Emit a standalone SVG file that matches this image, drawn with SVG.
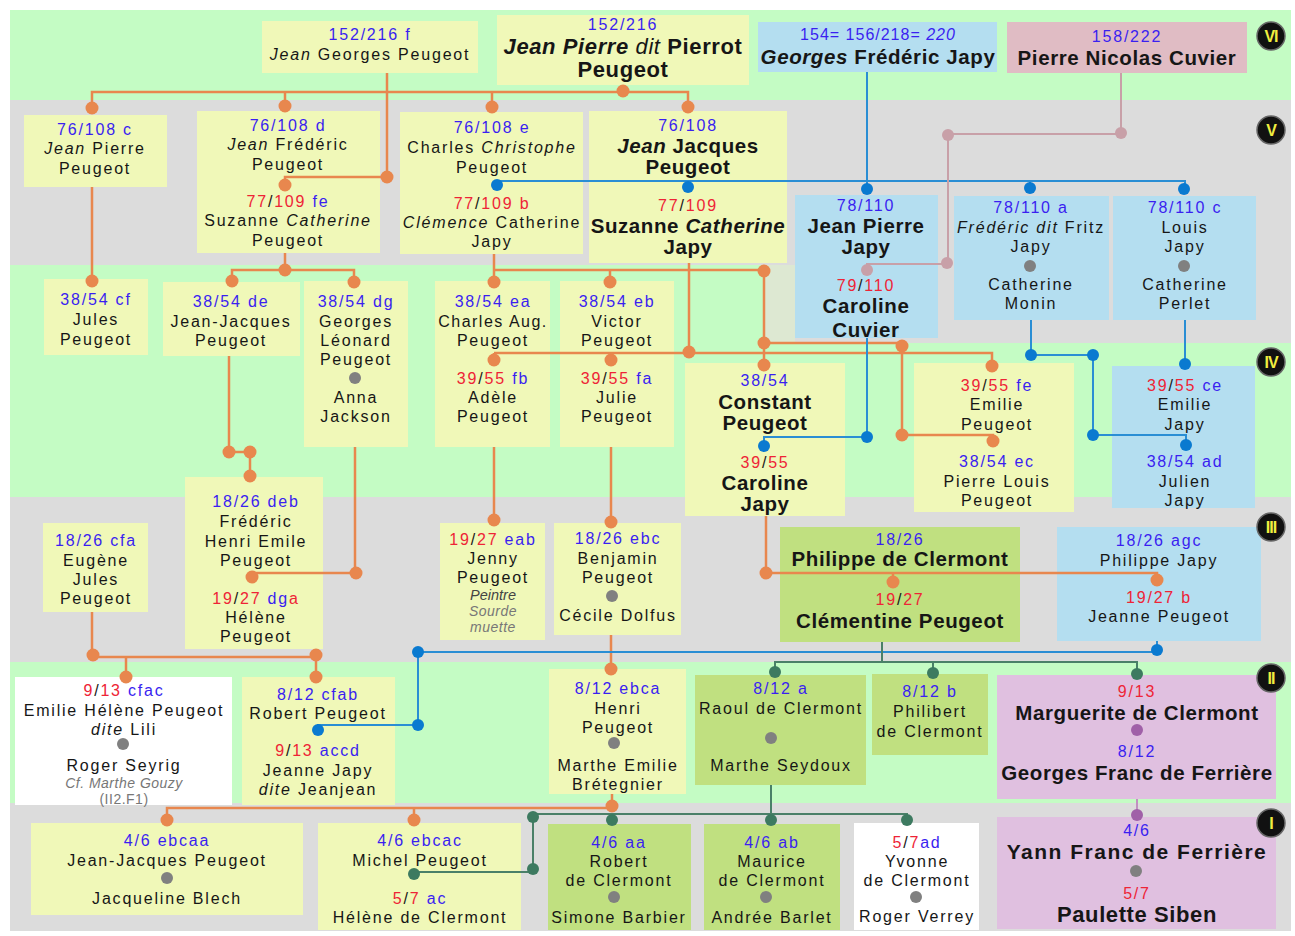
<svg xmlns="http://www.w3.org/2000/svg" width="1295" height="936" viewBox="0 0 1295 936">
<style>
.t{font-family:"Liberation Sans",Arial,sans-serif;font-size:16px;letter-spacing:1.8px;text-anchor:middle;fill:#161616}
.b{font-family:"Liberation Sans",Arial,sans-serif;font-size:20.5px;font-weight:bold;letter-spacing:0.6px;text-anchor:middle;fill:#161616}
.i{font-style:italic}
.nb{fill:#3a1ff0}
.nr{fill:#ee2436}
.sm{font-size:14px;font-style:italic;fill:#777;letter-spacing:0.5px}
.y{fill:#f0f8b8}.bu{fill:#b4def0}.pkb{fill:#e0bcc4}.vi{fill:#e0c0e0}.gr{fill:#c0e080}.w{fill:#fff}
.lo{fill:none;stroke:#e8874e;stroke-width:2.5}
.lb{fill:none;stroke:#2a8ed4;stroke-width:2}
.lp{fill:none;stroke:#c8a0a8;stroke-width:2}
.lt{fill:none;stroke:#4a8068;stroke-width:2}
.lv{fill:none;stroke:#c090c0;stroke-width:2}
.do{fill:#e8874e}.db{fill:#0a7ad0}.dp{fill:#c8a0a8}.dt{fill:#3d7a60}.dg{fill:#808080}.dv{fill:#a060a8}
.bd{fill:#111;stroke:#666;stroke-width:1.5}
.bt{font-family:"Liberation Sans",Arial,sans-serif;font-size:16px;font-weight:bold;text-anchor:middle;fill:#f0ee40;letter-spacing:-1px}
</style>
<g id="bands">
<rect x="10" y="10" width="1281" height="90" fill="#c4fcc4"/>
<rect x="10" y="100" width="1281" height="165" fill="#dcdcdc"/>
<rect x="10" y="265" width="1281" height="232" fill="#c4fcc4"/>
<rect x="795" y="265" width="496" height="78" fill="#dcdcdc"/>
<rect x="765" y="265" width="30" height="78" fill="#dde8d2"/>
<rect x="10" y="497" width="1281" height="165" fill="#dcdcdc"/>
<rect x="10" y="662" width="1281" height="141" fill="#c4fcc4"/>
<rect x="10" y="803" width="1281" height="128" fill="#dcdcdc"/>
</g>

<g id="n-jean-georges">
<rect class="y" x="262" y="21" width="216" height="52"/>
<text class="t nb" x="370" y="40">152/216 f</text>
<text class="t" x="370" y="60"><tspan class="i">Jean</tspan> Georges Peugeot</text>
</g>
<g id="n-pierrot">
<rect class="y" x="497" y="15" width="252" height="70"/>
<text class="t nb" x="623" y="30">152/216</text>
<text class="b" x="623" y="54" style="font-size:22px"><tspan class="i">Jean Pierre</tspan> <tspan class="i" font-weight="normal">dit</tspan> Pierrot</text>
<text class="b" x="623" y="77" style="font-size:22px">Peugeot</text>
</g>
<g id="n-georges-japy">
<rect class="bu" x="758" y="22" width="239" height="50"/>
<text class="t nb" x="878" y="40" style="letter-spacing:1px">154= 156/218= <tspan class="i">220</tspan></text>
<text class="b" x="878" y="64"><tspan class="i">Georges</tspan> Frédéric Japy</text>
</g>
<g id="n-cuvier">
<rect class="pkb" x="1007" y="22" width="240" height="51"/>
<text class="t nb" x="1127" y="42">158/222</text>
<text class="b" x="1127" y="65">Pierre Nicolas Cuvier</text>
</g>

<g id="n-76-108-c">
<rect class="y" x="24" y="115" width="143" height="72"/>
<text class="t nb" x="95" y="135">76/108 c</text>
<text class="t" x="95" y="154"><tspan class="i">Jean</tspan> Pierre</text>
<text class="t" x="95" y="174">Peugeot</text>
</g>
<g id="n-76-108-d">
<rect class="y" x="197" y="111" width="183" height="142"/>
<text class="t nb" x="288" y="131">76/108 d</text>
<text class="t" x="288" y="150"><tspan class="i">Jean</tspan> Frédéric</text>
<text class="t" x="288" y="170">Peugeot</text>
<text class="t" x="288" y="207"><tspan class="nr">77</tspan>/<tspan class="nr">109</tspan> <tspan class="nb">fe</tspan></text>
<text class="t" x="288" y="226">Suzanne <tspan class="i">Catherine</tspan></text>
<text class="t" x="288" y="246">Peugeot</text>
</g>
<g id="n-76-108-e">
<rect class="y" x="400" y="112" width="183" height="142"/>
<text class="t nb" x="492" y="133">76/108 e</text>
<text class="t" x="492" y="153">Charles <tspan class="i">Christophe</tspan></text>
<text class="t" x="492" y="173">Peugeot</text>
<text class="t" x="492" y="209"><tspan class="nr">77</tspan>/<tspan class="nr">109 b</tspan></text>
<text class="t" x="492" y="228"><tspan class="i">Clémence</tspan> Catherine</text>
<text class="t" x="492" y="247">Japy</text>
</g>
<g id="n-jean-jacques">
<rect class="y" x="589" y="111" width="198" height="152"/>
<text class="t nb" x="688" y="131">76/108</text>
<text class="b" x="688" y="153"><tspan class="i">Jean</tspan> Jacques</text>
<text class="b" x="688" y="174">Peugeot</text>
<text class="t" x="688" y="211"><tspan class="nr">77</tspan>/<tspan class="nr">109</tspan></text>
<text class="b" x="688" y="233">Suzanne <tspan class="i">Catherine</tspan></text>
<text class="b" x="688" y="254">Japy</text>
</g>
<g id="n-jean-pierre-japy">
<rect class="bu" x="795" y="195" width="143" height="143"/>
<text class="t nb" x="866" y="211">78/110</text>
<text class="b" x="866" y="233">Jean Pierre</text>
<text class="b" x="866" y="254">Japy</text>
<text class="t" x="866" y="291"><tspan class="nr">79</tspan>/<tspan class="nr">110</tspan></text>
<text class="b" x="866" y="313">Caroline</text>
<text class="b" x="866" y="336.5">Cuvier</text>
</g>
<g id="n-fritz">
<rect class="bu" x="954" y="196" width="155" height="124"/>
<text class="t nb" x="1031" y="213">78/110 a</text>
<text class="t" x="1031" y="233"><tspan class="i">Frédéric dit</tspan> Fritz</text>
<text class="t" x="1031" y="252">Japy</text>
<text class="t" x="1031" y="290">Catherine</text>
<text class="t" x="1031" y="309">Monin</text>
</g>
<g id="n-louis">
<rect class="bu" x="1113" y="196" width="143" height="124"/>
<text class="t nb" x="1185" y="213">78/110 c</text>
<text class="t" x="1185" y="233">Louis</text>
<text class="t" x="1185" y="252">Japy</text>
<text class="t" x="1185" y="290">Catherine</text>
<text class="t" x="1185" y="309">Perlet</text>
</g>

<g id="n-jules">
<rect class="y" x="44" y="279" width="104" height="76"/>
<text class="t nb" x="96" y="305">38/54 cf</text>
<text class="t" x="96" y="325">Jules</text>
<text class="t" x="96" y="345">Peugeot</text>
</g>
<g id="n-jean-jacques-de">
<rect class="y" x="163" y="282" width="137" height="74"/>
<text class="t nb" x="231" y="307">38/54 de</text>
<text class="t" x="231" y="327">Jean-Jacques</text>
<text class="t" x="231" y="346">Peugeot</text>
</g>
<g id="n-georges-leonard">
<rect class="y" x="304" y="281" width="104" height="166"/>
<text class="t nb" x="356" y="307">38/54 dg</text>
<text class="t" x="356" y="327">Georges</text>
<text class="t" x="356" y="346">Léonard</text>
<text class="t" x="356" y="365">Peugeot</text>
<text class="t" x="356" y="403">Anna</text>
<text class="t" x="356" y="422">Jackson</text>
</g>
<g id="n-charles-aug">
<rect class="y" x="435" y="281" width="115" height="166"/>
<text class="t nb" x="493" y="307">38/54 ea</text>
<text class="t" x="493" y="327" style="letter-spacing:1.5px">Charles Aug.</text>
<text class="t" x="493" y="346">Peugeot</text>
<text class="t" x="493" y="384"><tspan class="nr">39</tspan>/<tspan class="nr">55</tspan> <tspan class="nb">fb</tspan></text>
<text class="t" x="493" y="403">Adèle</text>
<text class="t" x="493" y="422">Peugeot</text>
</g>
<g id="n-victor">
<rect class="y" x="560" y="281" width="114" height="166"/>
<text class="t nb" x="617" y="307">38/54 eb</text>
<text class="t" x="617" y="327">Victor</text>
<text class="t" x="617" y="346">Peugeot</text>
<text class="t" x="617" y="384"><tspan class="nr">39</tspan>/<tspan class="nr">55</tspan> <tspan class="nb">fa</tspan></text>
<text class="t" x="617" y="403">Julie</text>
<text class="t" x="617" y="422">Peugeot</text>
</g>
<g id="n-constant">
<rect class="y" x="685" y="363" width="160" height="153"/>
<text class="t nb" x="765" y="386">38/54</text>
<text class="b" x="765" y="409">Constant</text>
<text class="b" x="765" y="430">Peugeot</text>
<text class="t" x="765" y="468"><tspan class="nr">39</tspan>/<tspan class="nr">55</tspan></text>
<text class="b" x="765" y="490">Caroline</text>
<text class="b" x="765" y="511">Japy</text>
</g>
<g id="n-emilie-peugeot">
<rect class="y" x="914" y="363" width="160" height="149"/>
<text class="t" x="997" y="391"><tspan class="nr">39</tspan>/<tspan class="nr">55</tspan> <tspan class="nb">fe</tspan></text>
<text class="t" x="997" y="410">Emilie</text>
<text class="t" x="997" y="430">Peugeot</text>
<text class="t nb" x="997" y="467">38/54 ec</text>
<text class="t" x="997" y="487">Pierre Louis</text>
<text class="t" x="997" y="506">Peugeot</text>
</g>
<g id="n-emilie-japy">
<rect class="bu" x="1112" y="366" width="143" height="142"/>
<text class="t" x="1185" y="391"><tspan class="nr">39</tspan>/<tspan class="nr">55</tspan> <tspan class="nb">ce</tspan></text>
<text class="t" x="1185" y="410">Emilie</text>
<text class="t" x="1185" y="430">Japy</text>
<text class="t nb" x="1185" y="467">38/54 ad</text>
<text class="t" x="1185" y="487">Julien</text>
<text class="t" x="1185" y="506">Japy</text>
</g>

<g id="n-eugene-jules">
<rect class="y" x="43" y="523" width="105" height="89"/>
<text class="t nb" x="96" y="546">18/26 cfa</text>
<text class="t" x="96" y="566">Eugène</text>
<text class="t" x="96" y="585">Jules</text>
<text class="t" x="96" y="604">Peugeot</text>
</g>
<g id="n-frederic-henri-emile">
<rect class="y" x="185" y="477" width="138" height="172"/>
<text class="t nb" x="256" y="507">18/26 deb</text>
<text class="t" x="256" y="527">Frédéric</text>
<text class="t" x="256" y="547">Henri Emile</text>
<text class="t" x="256" y="566">Peugeot</text>
<text class="t" x="256" y="604"><tspan class="nr">19</tspan>/<tspan class="nr">27</tspan> <tspan class="nb">dg</tspan><tspan class="nr">a</tspan></text>
<text class="t" x="256" y="623">Hélène</text>
<text class="t" x="256" y="642">Peugeot</text>
</g>
<g id="n-jenny">
<rect class="y" x="440" y="523" width="105" height="117"/>
<text class="t" x="493" y="545"><tspan class="nr">19</tspan>/<tspan class="nr">27</tspan> <tspan class="nb">eab</tspan></text>
<text class="t" x="493" y="564">Jenny</text>
<text class="t" x="493" y="583">Peugeot</text>
<text class="t i" x="493" y="600" style="font-size:14.5px;fill:#444;letter-spacing:0">Peintre</text>
<text class="t sm" x="493" y="616">Sourde</text>
<text class="t sm" x="493" y="632">muette</text>
</g>
<g id="n-benjamin">
<rect class="y" x="554" y="523" width="127" height="112"/>
<text class="t nb" x="618" y="544">18/26 ebc</text>
<text class="t" x="618" y="564">Benjamin</text>
<text class="t" x="618" y="583">Peugeot</text>
<text class="t" x="618" y="621">Cécile Dolfus</text>
</g>
<g id="n-philippe-clermont">
<rect class="gr" x="780" y="527" width="240" height="115"/>
<text class="t nb" x="900" y="545">18/26</text>
<text class="b" x="900" y="566">Philippe de Clermont</text>
<text class="t" x="900" y="605"><tspan class="nr">19</tspan>/<tspan class="nr">27</tspan></text>
<text class="b" x="900" y="628">Clémentine Peugeot</text>
</g>
<g id="n-philippe-japy">
<rect class="bu" x="1057" y="527" width="204" height="114"/>
<text class="t nb" x="1159" y="546">18/26 agc</text>
<text class="t" x="1159" y="566">Philippe Japy</text>
<text class="t nr" x="1159" y="603">19/27 b</text>
<text class="t" x="1159" y="622">Jeanne Peugeot</text>
</g>

<g id="n-emilie-helene">
<rect class="w" x="15" y="677" width="217" height="128"/>
<text class="t" x="124" y="696"><tspan class="nr">9</tspan>/<tspan class="nr">13</tspan> <tspan class="nb">cfac</tspan></text>
<text class="t" x="124" y="716">Emilie Hélène Peugeot</text>
<text class="t" x="124" y="735"><tspan class="i">dite</tspan> Lili</text>
<text class="t" x="124" y="771">Roger Seyrig</text>
<text class="t sm" x="124" y="788">Cf. Marthe Gouzy</text>
<text class="t sm" x="124" y="804" style="font-style:normal">(II2.F1)</text>
</g>
<g id="n-robert-peugeot">
<rect class="y" x="242" y="677" width="153" height="128"/>
<text class="t nb" x="318" y="700">8/12 cfab</text>
<text class="t" x="318" y="719">Robert Peugeot</text>
<text class="t" x="318" y="756"><tspan class="nr">9</tspan>/<tspan class="nr">13</tspan> <tspan class="nb">accd</tspan></text>
<text class="t" x="318" y="776">Jeanne Japy</text>
<text class="t" x="318" y="795"><tspan class="i">dite</tspan> Jeanjean</text>
</g>
<g id="n-henri">
<rect class="y" x="549" y="669" width="137" height="125"/>
<text class="t nb" x="618" y="694">8/12 ebca</text>
<text class="t" x="618" y="714">Henri</text>
<text class="t" x="618" y="733">Peugeot</text>
<text class="t" x="618" y="771">Marthe Emilie</text>
<text class="t" x="618" y="790">Brétegnier</text>
</g>
<g id="n-raoul">
<rect class="gr" x="695" y="675" width="171" height="110"/>
<text class="t nb" x="781" y="694">8/12 a</text>
<text class="t" x="781" y="714">Raoul de Clermont</text>
<text class="t" x="781" y="771">Marthe Seydoux</text>
</g>
<g id="n-philibert">
<rect class="gr" x="872" y="674" width="116" height="81"/>
<text class="t nb" x="930" y="697">8/12 b</text>
<text class="t" x="930" y="717">Philibert</text>
<text class="t" x="930" y="737">de Clermont</text>
</g>
<g id="n-marguerite">
<rect class="vi" x="997" y="675" width="279" height="124"/>
<text class="t nr" x="1137" y="697">9/13</text>
<text class="b" x="1137" y="720">Marguerite de Clermont</text>
<text class="t nb" x="1137" y="757">8/12</text>
<text class="b" x="1137" y="780">Georges Franc de Ferrière</text>
</g>

<g id="n-jean-jacques-ebcaa">
<rect class="y" x="31" y="823" width="272" height="92"/>
<text class="t nb" x="167" y="846">4/6 ebcaa</text>
<text class="t" x="167" y="866">Jean-Jacques Peugeot</text>
<text class="t" x="167" y="904">Jacqueline Blech</text>
</g>
<g id="n-michel">
<rect class="y" x="318" y="823" width="203" height="107"/>
<text class="t nb" x="420" y="846">4/6 ebcac</text>
<text class="t" x="420" y="866">Michel Peugeot</text>
<text class="t" x="420" y="904"><tspan class="nr">5</tspan>/<tspan class="nr">7</tspan> <tspan class="nb">ac</tspan></text>
<text class="t" x="420" y="923">Hélène de Clermont</text>
</g>
<g id="n-robert-clermont">
<rect class="gr" x="548" y="824" width="143" height="106"/>
<text class="t nb" x="619" y="848">4/6 aa</text>
<text class="t" x="619" y="867">Robert</text>
<text class="t" x="619" y="886">de Clermont</text>
<text class="t" x="619" y="923">Simone Barbier</text>
</g>
<g id="n-maurice">
<rect class="gr" x="704" y="824" width="136" height="106"/>
<text class="t nb" x="772" y="848">4/6 ab</text>
<text class="t" x="772" y="867">Maurice</text>
<text class="t" x="772" y="886">de Clermont</text>
<text class="t" x="772" y="923">Andrée Barlet</text>
</g>
<g id="n-yvonne">
<rect class="w" x="854" y="823" width="125" height="107"/>
<text class="t" x="917" y="848"><tspan class="nr">5</tspan>/<tspan class="nr">7</tspan><tspan class="nb">ad</tspan></text>
<text class="t" x="917" y="867">Yvonne</text>
<text class="t" x="917" y="886">de Clermont</text>
<text class="t" x="917" y="922">Roger Verrey</text>
</g>
<g id="n-yann">
<rect class="vi" x="997" y="817" width="279" height="112"/>
<text class="t nb" x="1137" y="836">4/6</text>
<text class="b" x="1137" y="859" style="font-size:21px;letter-spacing:1.5px">Yann Franc de Ferrière</text>
<text class="t nr" x="1137" y="899">5/7</text>
<text class="b" x="1137" y="922" style="font-size:22px">Paulette Siben</text>
</g>

<g id="connectors">
<path class="lo" d="M92,108 V92 H688 V107 M285,92 V106 M492,92 V107"/>
<path class="lo" d="M387,73 V177 H285 V185"/>
<path class="lo" d="M92,187 V281"/>
<path class="lo" d="M285,253 V270 M232,281 V270 H354 V282"/>
<path class="lo" d="M229,356 V452 H250 V476"/>
<path class="lo" d="M355,447 V573 H252 V577"/>
<path class="lo" d="M494,254 V282 M494,270 H764 V365 M610,270 V282 M764,343 H902 V435 H993 V441"/>
<path class="lo" d="M689,263 V353 M494,353 H992 V366 M494,353 V360 M611,353 V360"/>
<path class="lo" d="M494,447 V520 M611,447 V522"/>
<path class="lo" d="M766,516 V573 H1157 V580 M893,573 V582"/>
<path class="lo" d="M92,612 V657 H316 V649 M316,657 V677 M126,657 V677"/>
<path class="lo" d="M611,635 V669"/>
<path class="lo" d="M612,794 V808 M167,820 V808 H612 M414,808 V820"/>
<g class="do">
<circle cx="623" cy="91" r="6.5"/><circle cx="92" cy="108" r="6.5"/><circle cx="285" cy="106" r="6.5"/><circle cx="492" cy="107" r="6.5"/><circle cx="688" cy="107" r="6.5"/>
<circle cx="387" cy="177" r="6.5"/><circle cx="285" cy="185" r="6.5"/><circle cx="92" cy="281" r="6.5"/><circle cx="285" cy="270" r="6.5"/><circle cx="232" cy="281" r="6.5"/><circle cx="354" cy="282" r="6.5"/>
<circle cx="229" cy="452" r="6.5"/><circle cx="250" cy="452" r="6.5"/><circle cx="250" cy="476" r="6.5"/><circle cx="356" cy="573" r="6.5"/><circle cx="252" cy="577" r="6.5"/>
<circle cx="494" cy="282" r="6.5"/><circle cx="610" cy="282" r="6.5"/><circle cx="764" cy="271" r="6.5"/><circle cx="764" cy="343" r="6.5"/><circle cx="764" cy="365" r="6.5"/><circle cx="902" cy="346" r="6.5"/><circle cx="902" cy="435" r="6.5"/><circle cx="993" cy="441" r="6.5"/>
<circle cx="689" cy="352" r="6.5"/><circle cx="494" cy="360" r="6.5"/><circle cx="611" cy="360" r="6.5"/><circle cx="992" cy="366" r="6.5"/>
<circle cx="494" cy="520" r="6.5"/><circle cx="611" cy="522" r="6.5"/><circle cx="766" cy="573" r="6.5"/><circle cx="893" cy="582" r="6.5"/><circle cx="1157" cy="580" r="6.5"/>
<circle cx="93" cy="655" r="6.5"/><circle cx="316" cy="655" r="6.5"/><circle cx="126" cy="677" r="6.5"/><circle cx="316" cy="677" r="6.5"/><circle cx="611" cy="669" r="6.5"/>
<circle cx="612" cy="806" r="6.5"/><circle cx="167" cy="820" r="6.5"/><circle cx="414" cy="820" r="6.5"/>
</g>
<path class="lb" d="M867,72 V181 M497,185 V181 H1185 V189 M688,181 V187 M867,181 V189 M1030,181 V188"/>
<path class="lb" d="M867,338 V437 H764 V446"/>
<path class="lb" d="M1031,320 V355 H1093 V435 H1186 V445"/>
<path class="lb" d="M1185,320 V364"/>
<path class="lb" d="M1157,641 V652 H418 V725 H318 V730"/>
<g class="db">
<circle cx="497" cy="185" r="6"/><circle cx="688" cy="187" r="6"/><circle cx="867" cy="189" r="6"/><circle cx="1030" cy="188" r="6"/><circle cx="1184" cy="189" r="6"/>
<circle cx="867" cy="437" r="6"/><circle cx="764" cy="446" r="6"/><circle cx="1031" cy="355" r="6"/><circle cx="1093" cy="355" r="6"/><circle cx="1093" cy="435" r="6"/><circle cx="1186" cy="445" r="6"/><circle cx="1185" cy="364" r="6"/>
<circle cx="1157" cy="650" r="6"/><circle cx="418" cy="652" r="6"/><circle cx="418" cy="725" r="6"/><circle cx="318" cy="730" r="6"/>
</g>
<path class="lp" d="M1121,73 V134 H948 V264 H867 V270"/>
<g class="dp">
<circle cx="1121" cy="133" r="6"/><circle cx="948" cy="135" r="6"/><circle cx="947" cy="263" r="6"/><circle cx="867" cy="270" r="6"/>
</g>
<path class="lt" d="M882,642 V662 M775,672 V662 H1137 V674 M933,662 V673"/>
<path class="lt" d="M771,785 V814 M533,869 V814 H907 V820 M612,814 V820 M771,814 V820 M533,872 H414"/>
<g class="dt">
<circle cx="775" cy="672" r="6"/><circle cx="933" cy="673" r="6"/><circle cx="1137" cy="674" r="6"/>
<circle cx="533" cy="817" r="6"/><circle cx="612" cy="820" r="6"/><circle cx="771" cy="820" r="6"/><circle cx="907" cy="820" r="6"/><circle cx="533" cy="869" r="6"/><circle cx="414" cy="874" r="6"/>
</g>
<path class="lv" d="M1137,799 V815"/>
<g class="dv"><circle cx="1137" cy="815" r="6"/><circle cx="1137" cy="730" r="6"/></g>
<g class="dg">
<circle cx="355" cy="378" r="6"/><circle cx="1030" cy="266" r="6"/><circle cx="1184" cy="266" r="6"/><circle cx="612" cy="596" r="6"/>
<circle cx="123" cy="744" r="6"/><circle cx="614" cy="743" r="6"/><circle cx="771" cy="738" r="6"/>
<circle cx="167" cy="878" r="6"/><circle cx="614" cy="897" r="6"/><circle cx="766" cy="897" r="6"/><circle cx="916" cy="897" r="6"/><circle cx="1136" cy="871" r="6"/>
</g>
</g>

<g id="badges">
<circle class="bd" cx="1271" cy="36" r="14"/><text class="bt" x="1271" y="42">VI</text>
<circle class="bd" cx="1271" cy="130" r="14"/><text class="bt" x="1271" y="136">V</text>
<circle class="bd" cx="1271" cy="362" r="14"/><text class="bt" x="1271" y="368">IV</text>
<circle class="bd" cx="1271" cy="527" r="14"/><text class="bt" x="1271" y="533">III</text>
<circle class="bd" cx="1271" cy="678" r="14"/><text class="bt" x="1271" y="684">II</text>
<circle class="bd" cx="1271" cy="823" r="14"/><text class="bt" x="1271" y="829">I</text>
</g>
</svg>
